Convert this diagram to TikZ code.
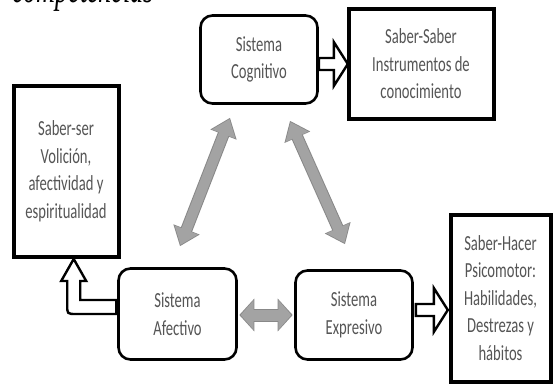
\documentclass[tikz,border=0pt]{standalone}
\usepackage{fontspec}
\newfontfamily\labfont[FakeStretch=0.68]{Carlito}
\newfontfamily\ttlfont[FakeStretch=0.62]{Liberation Serif}
\usetikzlibrary{calc,arrows.meta}
\definecolor{txtgray}{HTML}{555555}
\definecolor{arrfill}{HTML}{A3A3A3}
\definecolor{arredge}{HTML}{888888}
\tikzset{
  lab/.style={font=\labfont\fontsize{21.5}{27.5}\selectfont, text=txtgray, align=center},
  sysbox/.style={lab, draw=black, line width=2.6pt, rounded corners=12pt, inner sep=0pt},
  knowbox/.style={lab, draw=black, line width=4pt, inner sep=0pt},
  hollowline/.style={draw=black, fill=white, line width=2.4pt, line join=miter},
  grayouter/.style={draw=arredge, line width=12pt, {Triangle[width=27pt,length=18pt]}-{Triangle[width=27pt,length=18pt]}},
  grayinner/.style={draw=arrfill, line width=10pt, shorten <=1.4pt, shorten >=1.4pt, {Triangle[width=24pt,length=16pt]}-{Triangle[width=24pt,length=16pt]}},
  grayouterh/.style={draw=arredge, line width=13pt, {Triangle[width=32pt,length=15pt]}-{Triangle[width=32pt,length=15pt]}},
  grayinnerh/.style={draw=arrfill, line width=11pt, shorten <=1.4pt, shorten >=1.4pt, {Triangle[width=29pt,length=13pt]}-{Triangle[width=29pt,length=13pt]}},
  pics/harrow/.style={code={
    \path[hollowline] (0,-6) -- (#1-14,-6) -- (#1-14,-22) -- (#1,0) -- (#1-14,22) -- (#1-14,6) -- (0,6) -- cycle;
  }},
  pics/elbow/.style={code={
    \path[hollowline] (-1,-14) -- (-37,-14) -- (-37,-33) -- (-31,-33) -- (-43.5,-55) -- (-56,-33) -- (-50,-33) -- (-50,-9) .. controls (-50,0) .. (-41,0) -- (-1,0) -- cycle;
  }}
}
\begin{document}
\begin{tikzpicture}[x={(1pt,0)}, y={(0,-1pt)}]
\useasboundingbox (0,0) rectangle (556,385);
\fill[white] (0,0) rectangle (556,385);
\clip (0,0) rectangle (556,385);

\node[anchor=base west, inner sep=0pt, font=\ttlfont\itshape\fontsize{42}{42}\selectfont] (title) at (12,3) {competencias};

\node[sysbox, minimum width=117pt, minimum height=88pt] (cog) at (259,59.5) {Sistema\\Cognitivo};
\node[sysbox, minimum width=118pt, minimum height=91pt] (afe) at (177.5,314) {Sistema\\Afectivo};
\node[sysbox, minimum width=117pt, minimum height=89pt] (exp) at (354,315) {Sistema\\Expresivo};

\node[knowbox, minimum width=145pt, minimum height=109pt] (saber) at (421,64) {Saber-Saber\\Instrumentos de\\conocimiento};
\node[knowbox, minimum width=105pt, minimum height=170pt] (ser) at (66,171.5) {Saber-ser\\Volición,\\afectividad y\\espiritualidad};
\node[knowbox, minimum width=100pt, minimum height=167pt] (hacer) at (500.5,298) {Saber-Hacer\\Psicomotor:\\Habilidades,\\Destrezas y\\hábitos};

% hollow arrows
\pic at ($(cog.east)+(0,4.5)$) {harrow=29};
\pic at ($(exp.east)+(2,-5)$) {harrow=32};
\pic at (afe.west) {elbow};

% gray double arrows
\draw[grayouter] ($(cog.south)+(-29,13)$) -- ($(afe.north)+(2.5,-21)$);
\draw[grayinner] ($(cog.south)+(-29,13)$) -- ($(afe.north)+(2.5,-21)$);
\draw[grayouter] ($(cog.south)+(31,16)$) -- ($(exp.north)+(-9,-25)$);
\draw[grayinner] ($(cog.south)+(31,16)$) -- ($(exp.north)+(-9,-25)$);
\draw[grayouterh] ($(afe.east)+(1.5,1)$) -- ($(exp.west)+(-1.5,0)$);
\draw[grayinnerh] ($(afe.east)+(1.5,1)$) -- ($(exp.west)+(-1.5,0)$);
\end{tikzpicture}
\end{document}
